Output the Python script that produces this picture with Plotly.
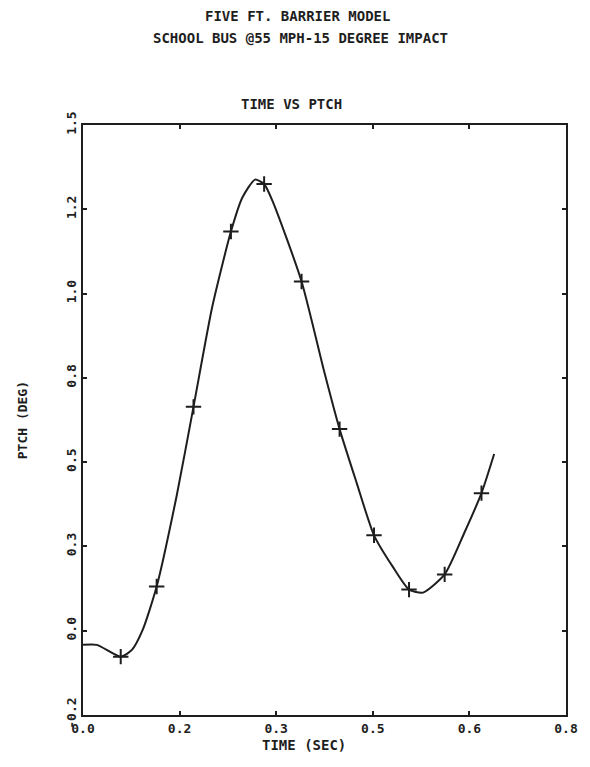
import plotly.graph_objects as go

# ---- data ----
curve_time = [0.0, 0.023, 0.0625, 0.081, 0.099, 0.122, 0.155, 0.183, 0.214, 0.245,
              0.264, 0.285, 0.300, 0.315, 0.362, 0.40, 0.425, 0.453, 0.482, 0.513,
              0.54, 0.563, 0.599, 0.632, 0.66, 0.681]
curve_pitch = [-0.042, -0.042, -0.077, -0.057, 0.003, 0.131, 0.399, 0.664, 0.96, 1.184,
               1.285, 1.338, 1.325, 1.27, 1.036, 0.765, 0.598, 0.44, 0.283, 0.19,
               0.122, 0.113, 0.167, 0.292, 0.408, 0.524]

marker_time = [0.0625, 0.122, 0.183, 0.245, 0.300, 0.362, 0.425, 0.482, 0.54, 0.599, 0.66]
marker_pitch = [-0.077, 0.131, 0.664, 1.184, 1.325, 1.036, 0.598, 0.283, 0.122, 0.167, 0.408]

x_tickvals = [0.0, 0.16, 0.32, 0.48, 0.64, 0.8]
x_ticktext = ["0.0", "0.2", "0.3", "0.5", "0.6", "0.8"]
y_tickvals = [-0.25, 0.0, 0.25, 0.5, 0.75, 1.0, 1.25, 1.5]
y_ticktext = ["-0.2", "0.0", "0.3", "0.5", "0.8", "1.0", "1.2", "1.5"]

title_1 = "FIVE FT. BARRIER MODEL"
title_2 = "SCHOOL BUS @55 MPH-15 DEGREE IMPACT"
subtitle = "TIME VS PTCH"
x_title = "TIME (SEC)"
y_title = "PTCH (DEG)"

FONT = "DejaVu Sans Mono"
INK = "#1e1e1e"

fig = go.Figure()
fig.add_trace(go.Scatter(
    x=curve_time, y=curve_pitch, mode="lines",
    line=dict(color=INK, width=2, shape="spline", smoothing=0.6),
    showlegend=False, hoverinfo="skip"))
fig.add_trace(go.Scatter(
    x=marker_time, y=marker_pitch, mode="markers",
    marker=dict(symbol="cross-thin", size=11, line=dict(color=INK, width=2)),
    showlegend=False))

axis_common = dict(
    showgrid=False, zeroline=False, showline=True, linecolor=INK, linewidth=2,
    mirror="ticks", ticks="inside", ticklen=4, tickwidth=2, tickcolor=INK,
    tickfont=dict(family=FONT, size=13, color=INK, weight="bold"),
)
fig.update_xaxes(range=[0, 0.8], tickvals=x_tickvals, ticktext=x_ticktext, **axis_common)
fig.update_yaxes(range=[-0.25, 1.5], tickvals=y_tickvals, ticktext=y_ticktext,
                 tickangle=-90, **axis_common)

W, H = 590, 767
L, R, T, B = 83, 22, 125, 52
ph = H - T - B
pw = W - L - R

def py(ypix):
    return (H - B - ypix) / ph

def px(xpix):
    return (xpix - L) / pw

tfont = dict(family=FONT, size=14, color=INK, weight="bold")
ann = [
    dict(text=title_1, x=px(298), y=py(16)),
    dict(text=title_2, x=px(301), y=py(38)),
    dict(text=subtitle, x=px(292), y=py(104)),
    dict(text=x_title, x=px(305), y=py(745)),
]
annotations = [dict(a, xref="paper", yref="paper", xanchor="center", yanchor="middle",
                    showarrow=False, font=tfont) for a in ann]
annotations.append(dict(text=y_title, x=px(22), y=py(420), xref="paper", yref="paper",
                        xanchor="center", yanchor="middle", showarrow=False,
                        textangle=-90, font=dict(family=FONT, size=13, color=INK, weight="bold")))

fig.update_layout(
    width=W, height=H, margin=dict(l=L, r=R, t=T, b=B),
    paper_bgcolor="white", plot_bgcolor="white",
    annotations=annotations,
)

fig.write_html("out.html", config={"displayModeBar": False},
               post_script="document.body.style.margin='0px';document.body.style.overflow='hidden';")
